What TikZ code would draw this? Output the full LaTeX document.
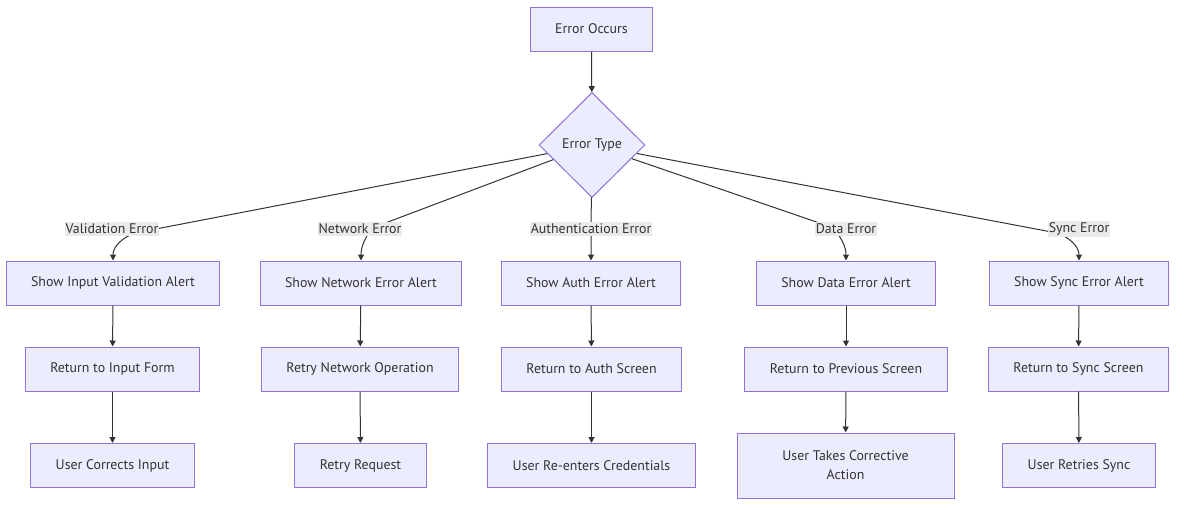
\documentclass[tikz,border=0pt]{standalone}
\usepackage{fontspec}
\setmainfont{PT Sans}
\usetikzlibrary{shapes.geometric,arrows.meta}
\definecolor{boxfill}{HTML}{ECECFF}
\definecolor{boxline}{HTML}{9370DB}
\definecolor{textcolor}{HTML}{333333}
\definecolor{labelfill}{HTML}{EAEAEA}
\tikzset{
  box/.style={rectangle,draw=boxline,fill=boxfill,line width=1pt,text=textcolor,font=\fontsize{13.9}{19}\selectfont,minimum height=44pt,inner xsep=25pt,align=center},
  choice/.style={diamond,draw=boxline,fill=boxfill,line width=1pt,text=textcolor,font=\fontsize{13.9}{19}\selectfont,minimum width=106pt,minimum height=105pt,inner sep=0pt},
  elabel/.style={fill=labelfill,text=textcolor,font=\fontsize{13.9}{19}\selectfont,inner xsep=1pt,inner ysep=2pt},
  edge/.style={draw=textcolor,line width=1pt,-{Triangle[length=6pt,width=6pt]}}
}

\begin{document}
\begin{tikzpicture}[x=1pt,y=1pt]
  \useasboundingbox (0,0) rectangle (1184,-509);
  % Start and decision
  \node at(591.5,-29)[box](eo){Error Occurs};
  \node at(592,-145)[choice](type){Error Type};
  % Alerts
  \node at(113,-283)[box](vs){Show Input Validation Alert};
  \node at(361,-283)[box](ns){Show Network Error Alert};
  \node at(591,-283)[box](as){Show Auth Error Alert};
  \node at(846,-283)[box](ds){Show Data Error Alert};
  \node at(1079,-283)[box](ss){Show Sync Error Alert};
  % Returns
  \node at(112.5,-369)[box](vr){Return to Input Form};
  \node at(360,-369)[box](nr){Retry Network Operation};
  \node at(591.5,-369)[box](ar){Return to Auth Screen};
  \node at(846,-369)[box](dr){Return to Previous Screen};
  \node at(1078.5,-369)[box](sr){Return to Sync Screen};
  % User actions
  \node at(112.5,-465.5)[box](vu){User Corrects Input};
  \node at(360.5,-465.5)[box](nu){Retry Request};
  \node at(591.5,-465.5)[box](au){User Re-enters Credentials};
  \node at(845.5,-465.5)[box,minimum height=65pt,minimum width=217pt](du){User Takes Corrective\\Action};
  \node at(1079,-465.5)[box](su){User Retries Sync};
  % Bend points (under the labels)
  \coordinate (vb) at (135,-233);
  \coordinate (nb) at (372,-228);
  \coordinate (ab) at (591,-229);
  \coordinate (db) at (834,-228);
  \coordinate (sb) at (1057,-233);
  % Edges
  \draw[edge](eo) -- (type);
  \draw[edge](type) -- (vb) to[out=200,in=90] (vs);
  \draw[edge](type) -- (nb) to[out=235,in=90] (ns);
  \draw[edge](type) -- (ab) -- (as);
  \draw[edge](type) -- (db) to[out=305,in=90] (ds);
  \draw[edge](type) -- (sb) to[out=340,in=90] (ss);
  \draw[edge](vs) -- (vr);
  \draw[edge](vr) -- (vu);
  \draw[edge](ns) -- (nr);
  \draw[edge](nr) -- (nu);
  \draw[edge](as) -- (ar);
  \draw[edge](ar) -- (au);
  \draw[edge](ds) -- (dr);
  \draw[edge](dr) -- (du);
  \draw[edge](ss) -- (sr);
  \draw[edge](sr) -- (su);
  % Edge labels
  \node at(112,-229)[elabel](vlt){Validation Error};
  \node at(360,-229)[elabel](nlt){Network Error};
  \node at(591,-229)[elabel](alt){Authentication Error};
  \node at(846,-229)[elabel](dlt){Data Error};
  \node at(1079,-229)[elabel](slt){Sync Error};
\end{tikzpicture}
\end{document}
